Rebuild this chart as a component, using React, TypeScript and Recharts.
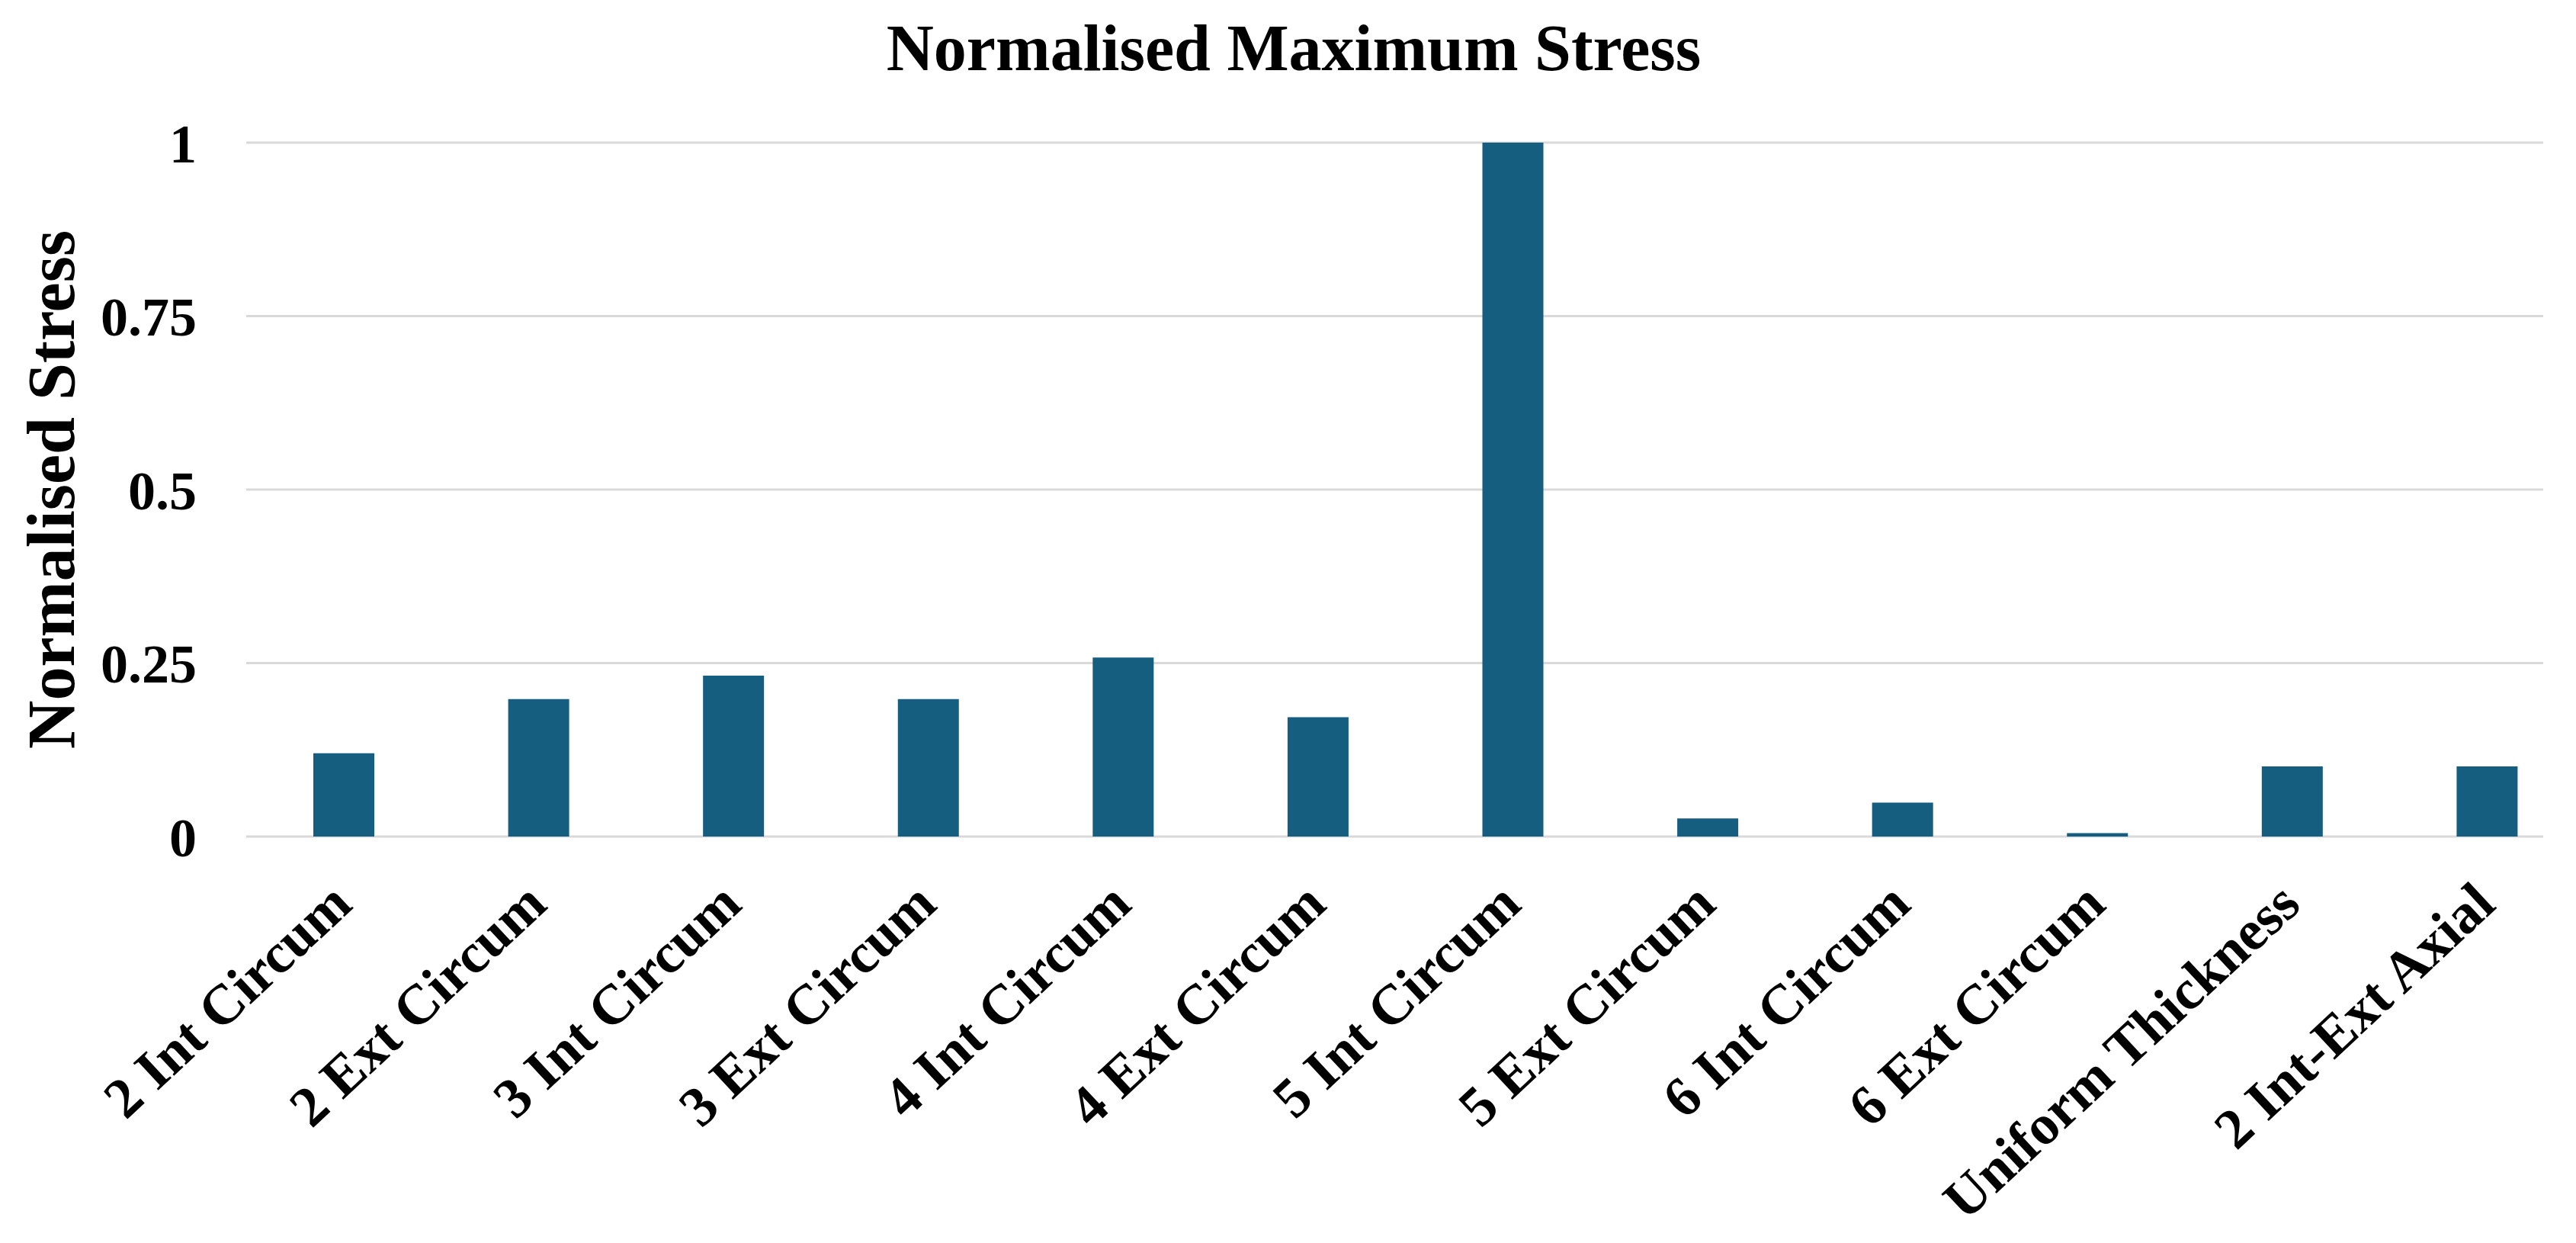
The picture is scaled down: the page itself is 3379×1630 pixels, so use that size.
import React from 'react';
import { BarChart, Bar, XAxis, YAxis, CartesianGrid } from 'recharts';

const categories = [
  '2 Int Circum',
  '2 Ext Circum',
  '3 Int Circum',
  '3 Ext Circum',
  '4 Int Circum',
  '4 Ext Circum',
  '5 Int Circum',
  '5 Ext Circum',
  '6 Int Circum',
  '6 Ext Circum',
  'Uniform Thickness',
  '2 Int-Ext Axial',
];
const stressValues = [0.12, 0.198, 0.232, 0.198, 0.258, 0.172, 1.0, 0.026, 0.049, 0.005, 0.101, 0.101];
const yTicks = [0, 0.25, 0.5, 0.75, 1];

const chartTitle = 'Normalised Maximum Stress';
const yTitle = 'Normalised Stress';

const data = categories.map((name, i) => ({ name, value: stressValues[i] }));

const FONT = '"Liberation Serif", "Times New Roman", serif';
const W = 3363;
const H = 1614;

const XTick = (props: any) => {
  const { x, y, payload } = props;
  const ax = x + 14;
  const ay = y + 93;
  return (
    <text
      x={ax}
      y={ay}
      transform={`rotate(-43, ${ax}, ${ay})`}
      textAnchor="end"
      fontFamily={FONT}
      fontWeight="bold"
      fontSize={74}
      fill="#000"
    >
      {payload.value}
    </text>
  );
};

const YTitle = (props: any) => {
  const vb = props.viewBox || {};
  const cy = (vb.y ?? 179) + (vb.height ?? 910) / 2;
  const bx = 89;
  return (
    <text
      x={bx}
      y={cy}
      transform={`rotate(-90, ${bx}, ${cy})`}
      textAnchor="middle"
      fontFamily={FONT}
      fontWeight="bold"
      fontSize={88}
      fill="#000"
    >
      {yTitle}
    </text>
  );
};

export default function App() {
  return (
    <div style={{ position: 'relative', width: W, height: H }}>
      <BarChart
        width={W}
        height={H}
        data={data}
        margin={{ top: 179, right: 35, bottom: 0, left: 0 }}
      >
        <CartesianGrid vertical={false} stroke="#d9d9d9" strokeWidth={3} />
        <XAxis
          dataKey="name"
          interval={0}
          height={525}
          axisLine={false}
          tickLine={false}
          tickSize={0}
          tickMargin={0}
          padding={{ left: 0, right: -54 }}
          tick={<XTick />}
        />
        <YAxis
          width={315}
          domain={[0, 1]}
          ticks={yTicks}
          axisLine={false}
          tickLine={false}
          tickSize={0}
          tickMargin={65}
          tick={{ fontFamily: FONT, fontWeight: 'bold', fontSize: 72, fill: '#000' }}
          label={{ content: <YTitle /> }}
        />
        <Bar dataKey="value" fill="#165e80" barSize={80} isAnimationActive={false} />
      </BarChart>
      <svg
        width={W}
        height={120}
        style={{ position: 'absolute', left: 0, top: 0, pointerEvents: 'none' }}
      >
        <text
          x={1689}
          y={84}
          textAnchor="middle"
          fontFamily={FONT}
          fontWeight="bold"
          fontSize={86}
          fill="#000"
        >
          {chartTitle}
        </text>
      </svg>
    </div>
  );
}
